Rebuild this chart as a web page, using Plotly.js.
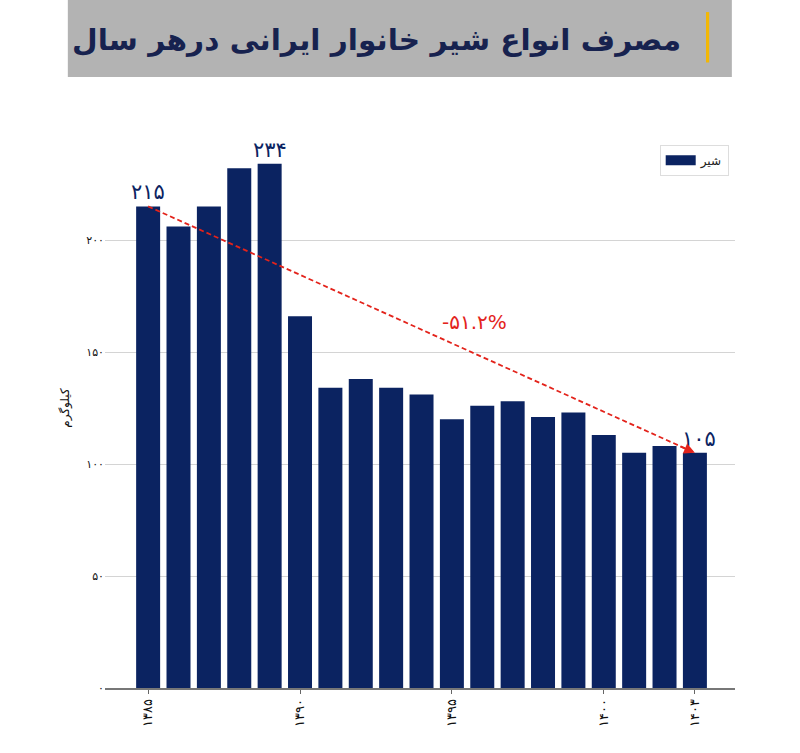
<!DOCTYPE html>
<html>
<head>
<meta charset="utf-8">
<script src="https://cdn.plot.ly/plotly-3.0.1.min.js"></script>
<style>
  html, body { margin: 0; padding: 0; background: #fff; }
  #chart { width: 800px; height: 753px; }
</style>
</head>
<body>
<div id="chart"></div>
<script>
// years (solar hijri) and per-capita household milk consumption, kg
const years = [1385, 1386, 1387, 1388, 1389, 1390, 1391, 1392, 1393, 1394,
               1395, 1396, 1397, 1398, 1399, 1400, 1401, 1402, 1403];
const milk = [215, 206, 215, 232, 234, 166, 134, 138, 134, 131,
              120, 126, 128, 121, 123, 113, 105, 108, 105];
const xTicks = [1385, 1390, 1395, 1400, 1403];
const yTicks = [0, 50, 100, 150, 200];

const seriesName = 'شیر';
const titleText = 'مصرف انواع شیر خانوار ایرانی درهر سال';
const yTitle = 'کیلوگرم';

const NAVY = '#0b2361';
const RED = '#e3231b';
const FONT = 'DejaVu Sans';

// western digits -> persian digits
const faDigits = '۰۱۲۳۴۵۶۷۸۹';
const toFa = v => String(v).replace(/[0-9]/g, d => faDigits[+d]);

const first = milk[0];
const last = milk[milk.length - 1];
const peak = Math.max(...milk);
const peakIdx = milk.indexOf(peak);
const change = ((last - first) / first * 100).toFixed(1);

const bars = {
  type: 'bar',
  x: years,
  y: milk,
  name: seriesName,
  legendgroup: 'milk',
  showlegend: false,
  marker: { color: NAVY, line: { width: 0 } },
  hoverinfo: 'x+y'
};

// legend entry only: wide flat swatch like the original
const legendSwatch = {
  type: 'scatter',
  mode: 'lines',
  x: [null],
  y: [null],
  name: seriesName,
  legendgroup: 'milk',
  line: { color: NAVY, width: 10 },
  hoverinfo: 'skip'
};

// dashed trend line from first to last year
const trend = {
  type: 'scatter',
  mode: 'lines',
  x: [years[0], years[years.length - 1]],
  y: [first, last],
  line: { color: RED, width: 1.8, dash: '5px,3px' },
  showlegend: false,
  hoverinfo: 'skip'
};

const valueLabel = (x, y, xshift) => ({
  x: x, y: y, xref: 'x', yref: 'y',
  text: toFa(y),
  showarrow: false,
  yanchor: 'bottom',
  xshift: xshift || 0,
  font: { family: FONT, size: 21, color: NAVY }
});

const layout = {
  width: 800,
  height: 753,
  margin: { l: 105, r: 65, t: 128, b: 65 },
  paper_bgcolor: '#fff',
  plot_bgcolor: '#fff',
  font: { family: FONT, color: '#111' },
  bargap: 0.21,
  showlegend: true,
  legend: {
    x: 0.99, y: 0.97, xanchor: 'right', yanchor: 'top',
    bgcolor: '#fff', bordercolor: '#dddddd', borderwidth: 1,
    font: { family: FONT, size: 12, color: '#222' }
  },
  xaxis: {
    range: [1383.58, 1404.32],
    tickvals: xTicks,
    ticktext: xTicks.map(toFa),
    tickangle: -90,
    ticks: 'outside', ticklen: 4, tickcolor: '#666',
    tickfont: { family: FONT, size: 13, color: '#111' },
    showgrid: false,
    showline: true, linecolor: '#777', linewidth: 1.5,
    zeroline: false
  },
  yaxis: {
    range: [0, 250],
    tickvals: yTicks,
    ticktext: yTicks.map(toFa),
    tickfont: { family: FONT, size: 11, color: '#111' },
    showgrid: true, gridcolor: '#d4d4d4', gridwidth: 1,
    zeroline: false,
    showline: false,
    title: { text: yTitle, font: { family: FONT, size: 12, color: '#111' }, standoff: 14 }
  },
  shapes: [
    // title banner
    { type: 'rect', xref: 'paper', yref: 'paper',
      x0: -0.059, x1: 0.995, y0: 1.091, y1: 1.229,
      fillcolor: '#b3b3b3', line: { width: 0 }, layer: 'above' },
    { type: 'rect', xref: 'paper', yref: 'paper',
      x0: 0.954, x1: 0.959, y0: 1.117, y1: 1.207,
      fillcolor: '#f2b705', line: { width: 0 }, layer: 'above' }
  ],
  annotations: [
    { x: 0.918, y: 1.158, xref: 'paper', yref: 'paper',
      xanchor: 'right', yanchor: 'middle', showarrow: false,
      text: '<b>' + titleText + '</b>',
      font: { family: FONT, size: 29.6, color: '#17224f' } },
    valueLabel(years[0], first, 0),
    valueLabel(years[peakIdx], peak, 0),
    valueLabel(years[years.length - 1], last, 4),
    // arrow head at the end of the trend line
    { x: years[years.length - 1], y: last, xref: 'x', yref: 'y',
      ax: -16, ay: -7, showarrow: true,
      arrowhead: 2, arrowsize: 1.2, arrowwidth: 1.8, arrowcolor: RED,
      text: '' },
    { x: 0.587, y: 0.654, xref: 'paper', yref: 'paper',
      showarrow: false, text: '-' + toFa(Math.abs(change)) + '%',
      font: { family: FONT, size: 20, color: RED } }
  ]
};

Plotly.newPlot('chart', [bars, legendSwatch, trend], layout, { displayModeBar: false, responsive: false });
</script>
</body>
</html>
